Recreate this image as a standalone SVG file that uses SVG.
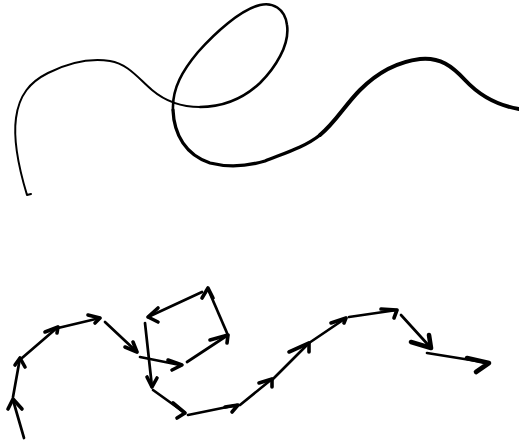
<svg xmlns="http://www.w3.org/2000/svg" width="519" height="443" viewBox="0 0 519 443">
<style>
.c{fill:none;stroke:#000;stroke-linecap:round;stroke-linejoin:round}
.a{fill:none;stroke:#000;stroke-width:2.7;stroke-linecap:round;stroke-linejoin:round}
.h{fill:none;stroke:#000;stroke-width:3.6;stroke-linecap:round;stroke-linejoin:round}
.hb{fill:none;stroke:#000;stroke-width:4.6;stroke-linecap:round;stroke-linejoin:round}
</style>
<rect width="519" height="443" fill="#fff"/>
<g id="curve">
<path class="c" stroke-width="2" d="M31,194 L27,195 C20,172 13,140 16,118 C19,95 30,82 48,73 C68,63 90,58 110,61 C128,64 138,78 152,90 C165,101 180,107 200,107"/>
<path class="c" stroke-width="2.6" d="M200,107 C225,107 245,97 260,83 C275,68 290,45 287,25 C285,8 272,2 260,5 C240,10 215,33 198,52 C183,70 172,88 173,110"/>
<path class="c" stroke-width="3.3" d="M173,110 C174,135 186,155 210,163 C230,168 248,166 265,161 C285,153 305,147 320,135"/>
<path class="c" stroke-width="4" d="M320,135 C335,123 345,105 360,90 C375,75 395,62 420,59 C440,57 452,66 465,80 C478,94 495,105 519,109"/>
</g>
<g id="arrows">
<path class="a" d="M24,438 L13,400"/><path class="h" d="M8,409 L13,399 L22,409"/>
<path class="a" d="M13,397 L20,358"/><path class="h" d="M15,365 L20,358 L25,367"/>
<path class="a" d="M22,358 L58,327"/><path class="h" d="M45,332 L58,327 L57,333"/>
<path class="a" d="M58,328 L100,318"/><path class="h" d="M88,315 L100,318 L95,323"/>
<path class="a" d="M105,322 L137,352"/><path class="h" d="M125,347 L137,352 L133,342"/>
<path class="a" d="M140,357 L180,365"/><path class="h" d="M168,360 L182,365 L172,370"/>
<path class="a" d="M187,362 L228,335"/><path class="h" d="M210,340 L228,335 L227,343"/>
<path class="a" d="M227,333 L208,289"/><path class="h" d="M202,298 L208,288 L213,298"/>
<path class="a" d="M202,292 L148,317"/><path class="h" d="M158,308 L148,317 L158,322"/>
<path class="a" d="M145,323 L152,387"/><path class="h" d="M147,377 L152,387 L157,378"/>
<path class="a" d="M153,390 L185,413"/><path class="h" d="M173,403 L185,413 L177,418"/>
<path class="a" d="M188,415 L237,405"/><path class="h" d="M225,407 L238,405 L232,412"/>
<path class="a" d="M240,405 L272,379"/><path class="h" d="M259,383 L272,379 L272,387"/>
<path class="a" d="M272,380 L309,343"/><path class="h" d="M289,352 L309,343 L309,352"/>
<path class="a" d="M309,343 L346,318"/><path class="h" d="M331,323 L346,318 L344,323"/>
<path class="a" d="M349,317 L397,310"/><path class="h" d="M381,309 L397,310 L394,318"/>
<path class="a" d="M401,315 L431,348"/><path class="hb" d="M411,342 L431,348 L429,335"/>
<path class="a" d="M427,353 L489,363"/><path class="hb" d="M467,358 L489,363 L476,372"/>
</g>
</svg>
